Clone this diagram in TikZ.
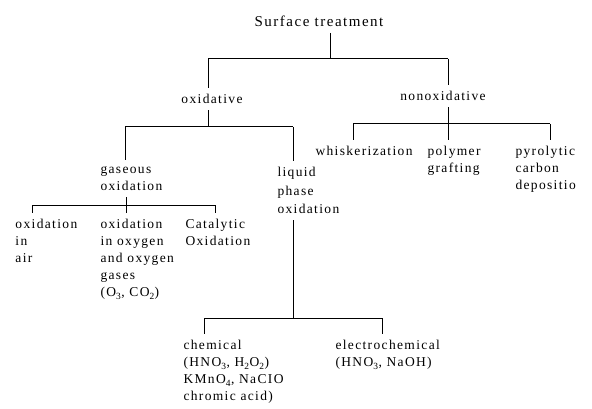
\documentclass[tikz,border=0pt]{standalone}
\usepackage{fontspec}
\setmainfont{Liberation Serif}[LetterSpace=10]
\usetikzlibrary{positioning}
\tikzset{
  every picture/.style={line width=1pt},
  lbl/.style={align=left, anchor=north west, inner sep=0pt, font=\fontsize{13.5}{17}\selectfont},
  head/.style={lbl, anchor=center},
  link/.style={draw=black, line width=1pt},
}
\begin{document}
\begin{tikzpicture}[x=1pt, y=-1pt]
  \useasboundingbox (0,0) rectangle (592,409);
  % labels
  \node[head, font=\fontsize{15}{17}\selectfont] (st) at (319,21) {Surface treatment};
  \node[head] (ox) at (212,99) {oxidative};
  \node[head] (nox) at (443,96) {nonoxidative};
  \node[lbl] (whi) at (315,146) {whiskerization};
  \node[lbl] (pol) at (427,146) {polymer\\grafting};
  \node[lbl] (pyr) at (515,146) {pyrolytic\\carbon\\depositio};
  \node[lbl] (gas) at (100,166) {gaseous\\oxidation};
  \node[lbl, font=\fontsize{13.5}{18.5}\selectfont] (liq) at (277,167) {liquid\\phase\\oxidation};
  \node[lbl] (air) at (15,219) {oxidation\\in\\air};
  \node[lbl] (oxy) at (100,219) {oxidation\\in oxygen\\and oxygen\\gases\\(O\textsubscript{3}, CO\textsubscript{2})};
  \node[lbl] (cat) at (185,219) {Catalytic\\Oxidation};
  \node[lbl] (chem) at (183,340) {chemical\\(HNO\textsubscript{3}, H\textsubscript{2}O\textsubscript{2})\\KMnO\textsubscript{4}, NaCIO\\chromic acid)};
  \node[lbl] (elec) at (335,340) {electrochemical\\(HNO\textsubscript{3}, NaOH)};
  % junctions
  \coordinate (j0) at (330,59);  \coordinate (j0l) at (208,59);  \coordinate (j0r) at (448,59);
  \coordinate (j1) at (208,127); \coordinate (j1l) at (125,127); \coordinate (j1r) at (293,127);
  \coordinate (j2) at (448,124); \coordinate (j2l) at (353,124); \coordinate (j2r) at (550,124);
  \coordinate (j3) at (126,205); \coordinate (j3l) at (32,205);  \coordinate (j3r) at (215,205);
  \coordinate (j4) at (293,318); \coordinate (j4l) at (204,318); \coordinate (j4r) at (382,318);
  % bars
  \foreach \l/\r in {j0l/j0r, j1l/j1r, j2l/j2r, j3l/j3r, j4l/j4r} \draw[link] (\l) -- (\r);
  % up to parent
  \foreach \p/\j in {st/j0, ox/j1, nox/j2, gas/j3, liq/j4}
    \draw[link, shorten <=6pt] (\p.south -| \j) -- (\j);
  % down to children
  \foreach \j/\c in {j0l/ox, j0r/nox, j1l/gas, j1r/liq, j2l/whi, j2/pol, j2r/pyr,
                     j3l/air, j3/oxy, j3r/cat, j4l/chem, j4r/elec}
    \draw[link, shorten >=6pt] (\j) -- (\j |- \c.north);
\end{tikzpicture}
\end{document}
